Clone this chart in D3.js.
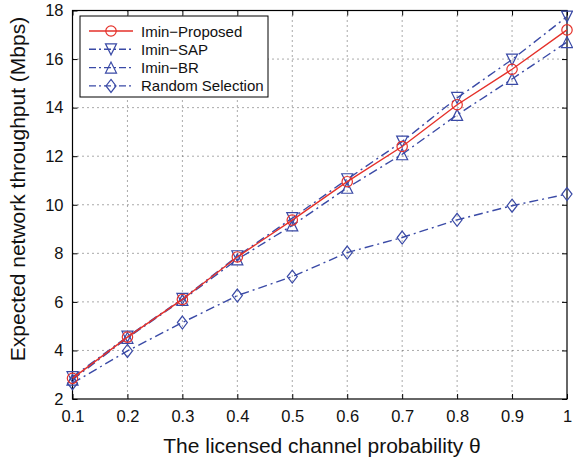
<!DOCTYPE html>
<html>
<head>
<meta charset="utf-8">
<script src="https://cdn.jsdelivr.net/npm/d3@7"></script>
<style>
  html, body { margin: 0; padding: 0; background: #fff; }
  svg { display: block; font-family: "Liberation Sans", Arial, Helvetica, sans-serif; }
</style>
</head>
<body>
<svg id="chart" width="573" height="463"></svg>
<script>
// Licensed channel probability theta
const thetas = [0.1, 0.2, 0.3, 0.4, 0.5, 0.6, 0.7, 0.8, 0.9, 1.0];
// Expected network throughput (Mbps) for each scheme
const proposed = [2.85, 4.55, 6.1, 7.85, 9.37, 10.95, 12.4, 14.12, 15.58, 17.2];
const sap      = [2.9, 4.57, 6.12, 7.88, 9.45, 11.05, 12.6, 14.4, 15.98, 17.75];
const br       = [2.8, 4.52, 6.08, 7.75, 9.15, 10.7, 12.08, 13.7, 15.18, 16.7];
const randomSel = [2.65, 3.98, 5.15, 6.26, 7.04, 8.03, 8.65, 9.38, 9.96, 10.44];
const xTicks = [0.1, 0.2, 0.3, 0.4, 0.5, 0.6, 0.7, 0.8, 0.9, 1];
const yTicks = [2, 4, 6, 8, 10, 12, 14, 16, 18];
const seriesNames = ["Imin\u2212Proposed", "Imin\u2212SAP", "Imin\u2212BR", "Random Selection"];

const red = "#e5312a", blue = "#3a4aa6";
const series = [
  { name: seriesNames[0], values: proposed, color: red, dash: null, marker: "circle" },
  { name: seriesNames[1], values: sap, color: blue, dash: "9,4,2,4", marker: "down" },
  { name: seriesNames[2], values: br, color: blue, dash: "9,4,2,4", marker: "up" },
  { name: seriesNames[3], values: randomSel, color: blue, dash: "9,4,2,4", marker: "diamond" }
];

const svg = d3.select("#chart");
const L = 72.5, R = 567, T = 10.5, B = 399;
const x = d3.scaleLinear().domain([0.1, 1]).range([L, R]);
const y = d3.scaleLinear().domain([2, 18]).range([B, T]);

// dotted grid
const grid = svg.append("g");
grid.selectAll("line.gx").data(xTicks.slice(1, -1)).join("line")
  .attr("x1", d => x(d)).attr("x2", d => x(d)).attr("y1", T).attr("y2", B)
  .attr("stroke", "#555").attr("stroke-width", 1).attr("stroke-dasharray", "1,4");
grid.selectAll("line.gy").data(yTicks.slice(1, -1)).join("line")
  .attr("x1", L).attr("x2", R).attr("y1", d => y(d)).attr("y2", d => y(d))
  .attr("stroke", "#555").attr("stroke-width", 1).attr("stroke-dasharray", "1,4");

// axes with inward ticks
svg.append("g").attr("transform", `translate(0,${B})`)
  .call(d3.axisBottom(x).tickValues(xTicks).tickFormat(d => d === 1 ? "1" : d3.format(".1f")(d)).tickSizeInner(-5).tickSizeOuter(0).tickPadding(11));
svg.append("g").attr("transform", `translate(${L},0)`)
  .call(d3.axisLeft(y).tickValues(yTicks).tickSizeInner(-5).tickSizeOuter(0).tickPadding(9));
svg.append("g").attr("transform", `translate(0,${T})`)
  .call(d3.axisTop(x).tickValues(xTicks).tickFormat("").tickSizeInner(-5).tickSizeOuter(0));
svg.append("g").attr("transform", `translate(${R},0)`)
  .call(d3.axisRight(y).tickValues(yTicks).tickFormat("").tickSizeInner(-5).tickSizeOuter(0));
svg.selectAll(".domain").remove();
svg.selectAll(".tick line").attr("stroke", "#000");
svg.selectAll(".tick text").attr("font-size", 16.5).attr("fill", "#111")
  .attr("font-family", "'Liberation Sans', Arial, sans-serif");
svg.append("rect").attr("x", L).attr("y", T).attr("width", R - L).attr("height", B - T)
  .attr("fill", "none").attr("stroke", "#000").attr("stroke-width", 1.2);

// markers
function drawMarker(g, type, cx, cy, color) {
  const s = 5.5;
  if (type === "circle") {
    g.append("circle").attr("cx", cx).attr("cy", cy).attr("r", 5.2)
      .attr("fill", "none").attr("stroke", color).attr("stroke-width", 1.2);
  } else {
    let pts;
    if (type === "down") pts = [[cx - s, cy - s], [cx + s, cy - s], [cx, cy + s]];
    else if (type === "up") pts = [[cx - s, cy + s], [cx + s, cy + s], [cx, cy - s]];
    else pts = [[cx, cy - 6.5], [cx + 5, cy], [cx, cy + 6.5], [cx - 5, cy]];
    g.append("polygon").attr("points", pts.map(p => p.join(",")).join(" "))
      .attr("fill", "none").attr("stroke", color).attr("stroke-width", 1.2);
  }
}

const line = d3.line().x(d => x(d[0])).y(d => y(d[1]));
const plot = svg.append("g");
series.slice().reverse().forEach(s => {
  const pts = thetas.map((t, i) => [t, s.values[i]]);
  plot.append("path").datum(pts).attr("d", line)
    .attr("fill", "none").attr("stroke", s.color).attr("stroke-width", 1.4)
    .attr("stroke-dasharray", s.dash);
  pts.forEach(p => drawMarker(plot, s.marker, x(p[0]), y(p[1]), s.color));
});

// legend
const lg = svg.append("g");
lg.append("rect").attr("x", 80).attr("y", 16).attr("width", 188).attr("height", 81)
  .attr("fill", "#fff").attr("stroke", "#000").attr("stroke-width", 1);
series.forEach((s, i) => {
  const ry = 31 + i * 18.3;
  lg.append("line").attr("x1", 89).attr("x2", 133).attr("y1", ry).attr("y2", ry)
    .attr("stroke", s.color).attr("stroke-width", 1.4).attr("stroke-dasharray", s.dash ? "7,3,2,3" : null);
  drawMarker(lg, s.marker, 111, ry, s.color);
  lg.append("text").attr("x", 141).attr("y", ry + 5.5).attr("font-size", 15).attr("fill", "#111")
    .text(s.name);
});

// axis titles
svg.append("text").attr("x", 322).attr("y", 453).attr("text-anchor", "middle")
  .attr("font-size", 21).attr("fill", "#111").text("The licensed channel probability \u03b8");
svg.append("text").attr("transform", "translate(25,189) rotate(-90)").attr("text-anchor", "middle")
  .attr("font-size", 21).attr("fill", "#111").text("Expected network throughput (Mbps)");
</script>
</body>
</html>
